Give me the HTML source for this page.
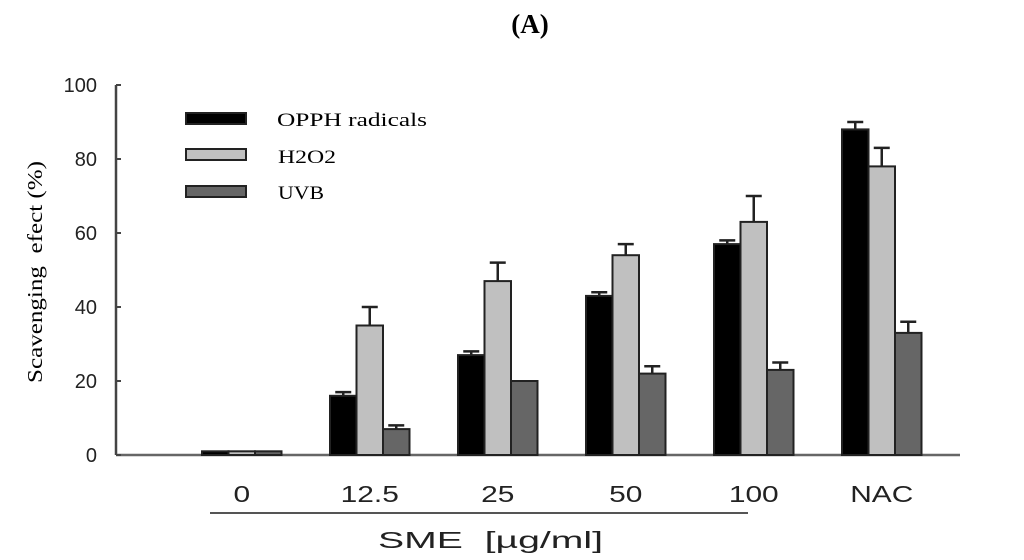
<!DOCTYPE html>
<html><head><meta charset="utf-8">
<style>
body{margin:0;background:#fff;width:1024px;height:560px;overflow:hidden}
svg{display:block}
.serif{font-family:"Liberation Serif",serif}
.sans{font-family:"Liberation Sans",sans-serif}
</style></head>
<body>
<svg id="chart" width="1024" height="560">
<text x="530" y="33" text-anchor="middle" class="serif" font-size="27" font-weight="bold">(A)</text>
<text transform="translate(42,272) rotate(-90)" text-anchor="middle" class="serif" font-size="21" textLength="222" lengthAdjust="spacingAndGlyphs">Scavenging&#160;&#160;efect (%)</text>
<g id="yaxis"></g>
<g id="bars"></g>
<g id="xlabels"></g>
<line x1="210" y1="513" x2="748" y2="513" stroke="#555" stroke-width="2"/>
<text x="378" y="548" class="sans" font-size="23" fill="#222" textLength="225" lengthAdjust="spacingAndGlyphs">SME&#160;&#160;[µg/ml]</text>
<g>
<rect x="186" y="113" width="60" height="11" fill="#000" stroke="#222" stroke-width="2"/>
<text x="277" y="126" class="serif" font-size="19" textLength="150" lengthAdjust="spacingAndGlyphs">OPPH radicals</text>
<rect x="186" y="149" width="60" height="11" fill="#c0c0c0" stroke="#222" stroke-width="2"/>
<text x="278" y="163" class="serif" font-size="19" textLength="58" lengthAdjust="spacingAndGlyphs">H2O2</text>
<rect x="186" y="186" width="60" height="11" fill="#666" stroke="#222" stroke-width="2"/>
<text x="278" y="199" class="serif" font-size="19" textLength="46" lengthAdjust="spacingAndGlyphs">UVB</text>
</g>
</svg>
<script>
const categories = ["0","12.5","25","50","100","NAC"];
const opph = [1,16,27,43,57,88];
const h2o2 = [1,35,47,54,63,78];
const uvb = [1,7,20,22,23,33];
const opphErr = [0,1,1,1,1,2];
const h2o2Err = [0,5,5,3,7,5];
const uvbErr = [0,1,0,2,2,3];
const yTicks = [0,20,40,60,80,100];

const NS="http://www.w3.org/2000/svg";
const x0=116, x1=960, yBase=455, yTop=85;
const y = v => yBase - (v/100)*(yBase-yTop);
const groupStart = i => 202 + i*128;
const bw = 26.5;
function mk(tag, attrs, parent){const e=document.createElementNS(NS,tag);for(const k in attrs)e.setAttribute(k,attrs[k]);parent.appendChild(e);return e;}

const ya=document.getElementById('yaxis');
const ax=mk('line',{x1:x0,y1:yTop,x2:x0,y2:yBase,stroke:'#444','stroke-width':2.5},ya);


const bl=mk('line',{x1:x0,y1:yBase,x2:x1,y2:yBase,stroke:'#666','stroke-width':2.5},ya);


yTicks.forEach(t=>{
  const tk=mk('line',{x1:x0,y1:y(t),x2:x0+5,y2:y(t),stroke:'#444','stroke-width':2},ya);
  
  
  const tl=mk('text',{x:97,y:y(t)+7,'text-anchor':'end','font-size':20,'class':'sans',fill:'#222'},ya);
  tl.textContent=t;
  
  
});

const series=[[opph,opphErr,'#000','opph'],[h2o2,h2o2Err,'#c0c0c0','h2o2'],[uvb,uvbErr,'#666','uvb']];
const bg=document.getElementById('bars');
categories.forEach((c,i)=>{
  series.forEach((s,j)=>{
    const v=s[0][i], e=s[1][i];
    const bx=groupStart(i)+j*bw;
    const r=mk('rect',{x:bx,y:y(v),width:bw,height:yBase-y(v),fill:s[2],stroke:'#222','stroke-width':2},bg);
    
    
    if(e>0){
      const cx=bx+bw/2;
      const el=mk('path',{d:`M${cx},${y(v)} V${y(v+e)} M${cx-8},${y(v+e)} H${cx+8}`,stroke:'#222','stroke-width':2.5,fill:'none'},bg);
      
      
    }
  });
  const cx=groupStart(i)+1.5*bw;
  const lbl=mk('text',{transform:`translate(${cx},502) scale(1.3,1)`,'text-anchor':'middle','font-size':23,'class':'sans',fill:'#222'},document.getElementById('xlabels'));
  lbl.textContent=c;
  
  
});
</script>
</body></html>
